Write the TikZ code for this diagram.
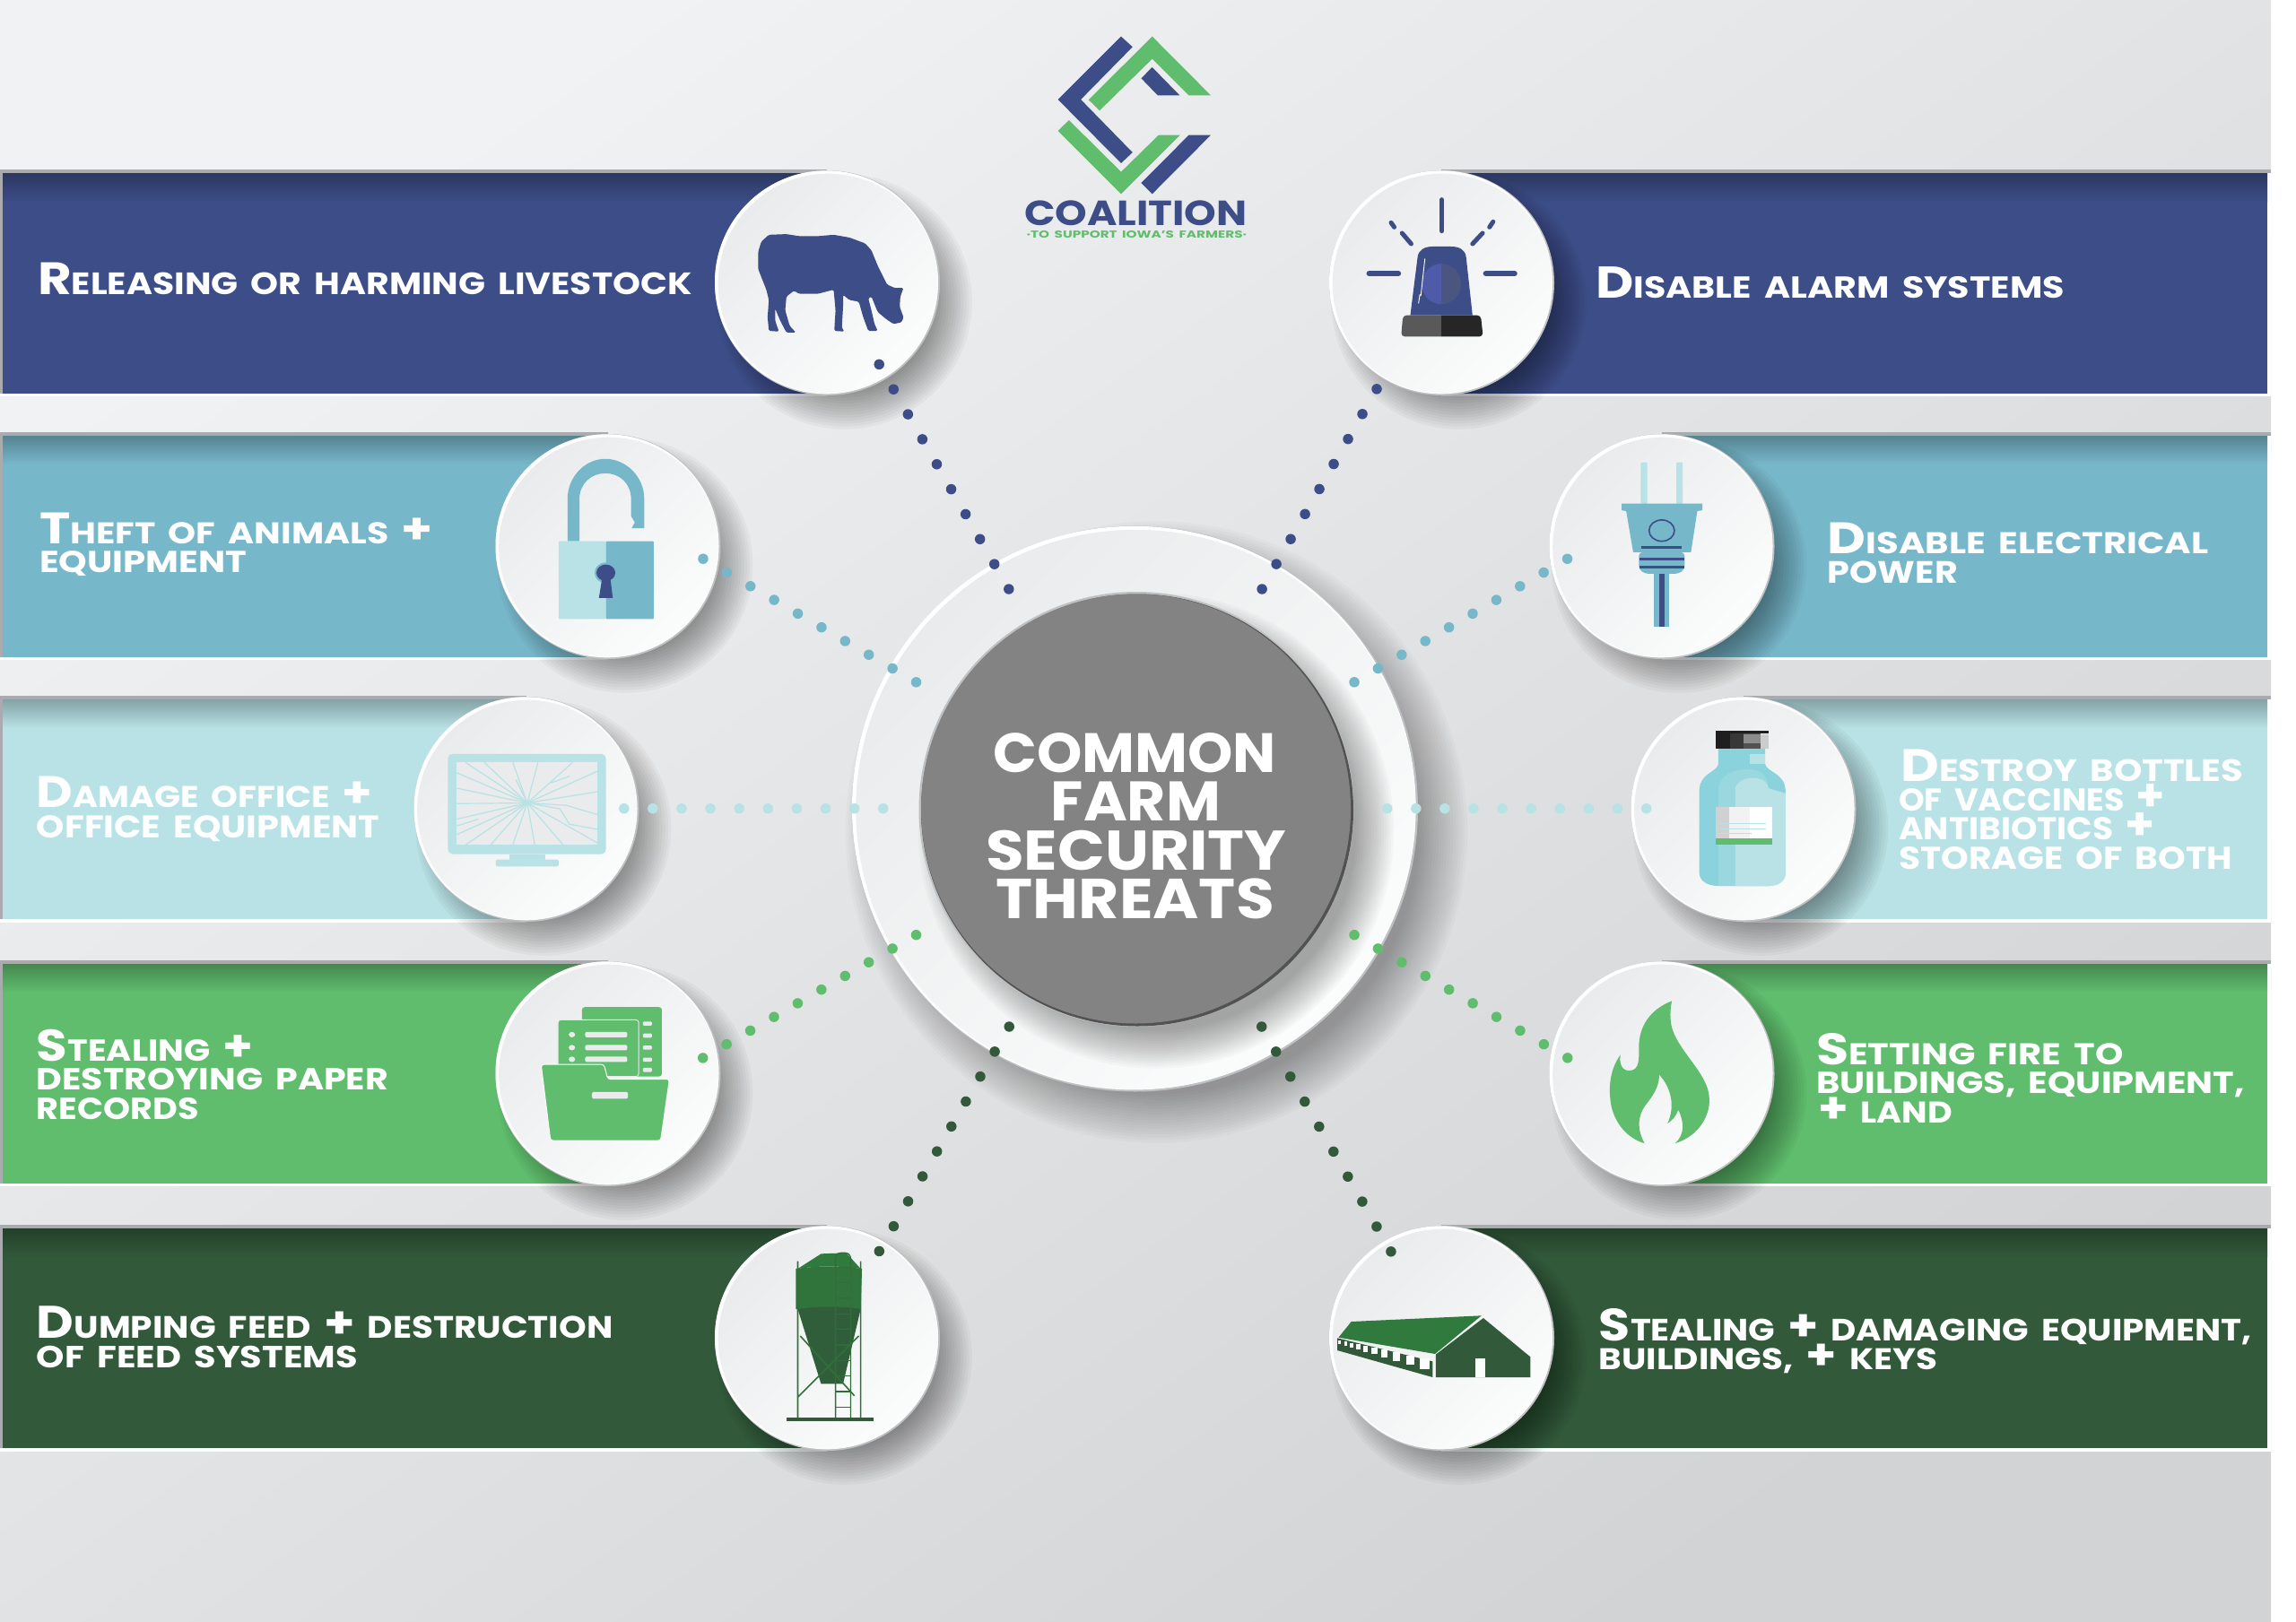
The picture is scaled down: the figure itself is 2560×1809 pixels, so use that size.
\documentclass[tikz,border=0pt]{standalone}
\usepackage{graphicx}
\usepackage{fontspec}
\setmainfont{Poppins}[WordSpace=1.7]
\definecolor{navy}{HTML}{3C4D87}
\definecolor{sky}{HTML}{77B7CA}
\definecolor{pale}{HTML}{B8E2E5}
\definecolor{leaf}{HTML}{60BD6E}
\definecolor{forest}{HTML}{32593A}
\definecolor{barn}{HTML}{2F7A3C}
\definecolor{core}{HTML}{828382}
\definecolor{rim}{HTML}{A9ABAE}
\definecolor{edgeg}{HTML}{BFC0C2}
\definecolor{discA}{HTML}{EAEBEC}
\definecolor{discB}{HTML}{FBFCFC}
\definecolor{bgA}{HTML}{F1F2F3}
\definecolor{bgB}{HTML}{D2D3D5}
\definecolor{vial}{HTML}{8AD3DC}
\definecolor{lampL}{HTML}{4F5AA8}
\definecolor{lampR}{HTML}{4A5580}
\tikzset{
  zA/.style={xshift=1000pt,x=0.5102pt,y=-0.33333pt},
  zB/.style={yshift=-170pt,x=0.7015pt,y=-0.3827pt},
  zC/.style={xshift=1450pt,yshift=-170pt,x=0.70791pt,y=-0.3827pt},
  zD/.style={yshift=-770pt,x=0.7015pt,y=-0.3827pt},
  zE/.style={xshift=1450pt,yshift=-770pt,x=0.70791pt,y=-0.3827pt},
  zF/.style={yshift=-1300pt,x=0.7015pt,y=-0.33333pt},
  zG/.style={xshift=1450pt,yshift=-1300pt,x=0.70791pt,y=-0.33333pt},
  dotline/.style={line width=11.5pt,line cap=round},
  lab/.style={anchor=base west,inner sep=0pt,text=white,font=\bfseries}
}
\newcommand{\bg}[1]{{\fontsize{50}{50}\selectfont #1}}
\newcommand{\sm}[1]{{\fontsize{34}{34}\selectfont #1}}
\newcommand{\pl}{\smash{\fontsize{48}{48}\selectfont +}}
% name, x, baseline, width, height, text
\newcommand{\lineT}[6]{\node[lab] (#1) at (#2,#3) {\resizebox{#4pt}{#5pt}{#6}};}
% xa xb ytop yfill ybot ywhite colour
\newcommand{\bandL}[7]{%
  \fill[rim] (#1,#3) rectangle (#2,#4);
  \fill[rim] (#1,#3) rectangle (#1+3,#6);
  \fill[#7] (#1+3,#4) rectangle (#2,#5);
  \shade[top color=#7!72!black,bottom color=#7] (#1+3,#4) rectangle (#2,#4+32);
  \fill[white] (#1,#5) rectangle (#2,#6);}
\newcommand{\bandR}[7]{%
  \fill[rim] (#1,#3) rectangle (#2,#4);
  \fill[white] (#2-4,#4) rectangle (#2,#6);
  \fill[#7] (#1,#4) rectangle (#2-4,#5);
  \shade[top color=#7!72!black,bottom color=#7] (#1,#4) rectangle (#2-4,#4+32);
  \fill[white] (#1,#5) rectangle (#2,#6);}
% cx cy outer radius count step layer-opacity : soft shadow from stacked discs
\newcommand{\softshadow}[6]{%
  \foreach \k in {1,...,#4} {\fill[black,opacity=#6] (#1,#2) circle[radius=#3-\k*#5];}}
% name cx cy r
\newcommand{\disc}[4]{%
  \softshadow{#2+19}{#3+21}{#4+20}{14}{3.2}{0.031}
  \fill[edgeg] (#2,#3) circle[radius=#4];
  \fill[white] (#2-1,#3-0.7) circle[radius=#4-1];
  \shade[top color=discA,bottom color=discB,shading angle=45] (#2+0.7,#3+0.7) circle[radius=#4-3];
  \node[circle,inner sep=0pt,minimum size=2*#4 pt] (#1) at (#2,#3) {};}
\begin{document}
\begin{tikzpicture}[x=1pt,y=-1pt]
\useasboundingbox (0,0) rectangle (2560,1809);
\fill[white] (0,0) rectangle (2560,1809);
\shade[top color=bgA,bottom color=bgB,shading angle=35] (0,0) rectangle (2532,1809);

% bands
\bandL{0}{922}{189}{193}{439}{442}{navy}
\bandL{0}{678}{482}{486}{733}{736}{sky}
\bandL{0}{587}{776}{780}{1025}{1029}{pale}
\bandL{0}{678}{1071}{1075}{1320}{1323}{leaf}
\bandL{0}{922}{1366}{1370}{1615}{1619}{forest}
\bandR{1607}{2532}{189}{193}{439}{442}{navy}
\bandR{1853}{2532}{482}{486}{733}{736}{sky}
\bandR{1944}{2532}{776}{780}{1025}{1029}{pale}
\bandR{1853}{2532}{1071}{1075}{1320}{1323}{leaf}
\bandR{1607}{2532}{1366}{1370}{1615}{1619}{forest}

% centre ring
\softshadow{1265.5+24}{902+26}{350}{18}{3.2}{0.018}
\fill[edgeg] (1265.5,902) circle[radius=315.5];
\fill[white] (1264.3,901.1) circle[radius=314.3];
\shade[top color=discA,bottom color=discB,shading angle=45] (1266.3,902.8) circle[radius=312];
\softshadow{1267+22}{902.5+24}{268}{16}{2.8}{0.022}
\fill[edgeg] (1267,902.5) circle[radius=242.5];
\fill[black!68] (1268,903.5) circle[radius=241];
\node[circle,fill=core,inner sep=0pt,minimum size=479pt] (hub) at (1266.5,902) {};

% discs
\disc{cowd}{922.5}{315.5}{125.5}
\disc{lockd}{678}{609.5}{125.5}
\disc{mond}{587}{902.5}{125.5}
\disc{fold}{678}{1197.5}{125.5}
\disc{silod}{922.5}{1492.5}{125.5}
\disc{alrd}{1607.5}{315.5}{125.5}
\disc{plgd}{1853}{609.5}{125.5}
\disc{botd}{1944}{902.5}{125.5}
\disc{fird}{1853}{1197.5}{125.5}
\disc{brnd}{1607.5}{1492.5}{125.5}

% logo
\begin{scope}[zA]
\fill[navy] (490,122)--(515,157)--(402,333)--(515,510)--(490,546)--(352,333)--cycle;
\fill[leaf] (558,122)--(686,319)--(638,319)--(558,197)--(443,370)--(419,334)--cycle;
\fill[navy] (558,225)--(618,319)--(570,319)--(534,262)--cycle;
\fill[leaf] (376,402)--(490,575)--(572,452)--(619,452)--(490,649)--(352,438)--cycle;
\fill[navy] (638,452)--(686,452)--(558,649)--(534,612)--cycle;
\end{scope}
\node[lab,text=navy] (logoa) at (1141.8,251.7) {\resizebox{248.5pt}{27.7pt}{COALITION}};
\node[lab,text=leaf] (logob) at (1144.4,265.7) {\resizebox{245.6pt}{8pt}{·TO SUPPORT IOWA'S FARMERS·}};

% cow
\begin{scope}[zB]
\fill[navy,rounded corners=1.5pt] (1210,260)--(1222,240)--(1250,238)--(1270,244)--(1300,244)--(1325,240)--(1350,248)--(1375,265)--(1385,285)--(1395,330)--(1410,385)--(1422,395)--(1436,395)--(1431,420)--(1430,450)--(1436,480)--(1433,495)--(1420,500)--(1408,485)--(1395,465)--(1385,420)--(1380,425)--(1385,460)--(1390,500)--(1395,520)--(1380,520)--(1372,480)--(1365,435)--(1350,430)--(1340,415)--(1340,450)--(1338,510)--(1342,522)--(1326,520)--(1328,460)--(1325,400)--(1300,412)--(1270,412)--(1262,403)--(1250,420)--(1248,460)--(1255,505)--(1265,525)--(1250,525)--(1240,490)--(1232,455)--(1232,490)--(1238,522)--(1222,520)--(1220,480)--(1222,430)--(1218,400)--(1205,340)--(1205,290)--cycle;
% lock
\fill[sky] (902,1133)--(902,1010) .. controls (902,945) and (930,893) .. (962,893) .. controls (995,893) and (1024,945) .. (1024,1010)--(1024,1095)--(1004,1095)--(1009,1078)--(1003,1060)--(1003,1010) .. controls (1003,965) and (985,935) .. (962,935) .. controls (940,935) and (921,965) .. (921,1010)--(921,1133)--cycle;
\fill[pale,rounded corners=1pt] (888,1133) rectangle (963,1360);
\fill[sky,rounded corners=1pt] (963,1133) rectangle (1039,1360);
\fill[sky] (963,1225) ellipse[x radius=18,y radius=30];
\fill[navy] (963,1225) ellipse[x radius=15,y radius=24];
\fill[navy] (957,1240)--(970,1240)--(974,1298)--(952,1298)--cycle;
\end{scope}

% monitor, folder
\begin{scope}[zD]
\fill[pale,rounded corners=5pt] (712,185) rectangle (963,477);
\fill[discA] (726,210) rectangle (950,450);
\foreach \a/\b in {726/240,726/285,726/330,726/375,726/420,740/450,780/450,815/450,850/450,895/450,950/445,950/295,950/235,910/210,855/210,815/210,770/210,740/210}
  \draw[pale,line width=1.2pt] (838,328)--(\a,\b);
\draw[pale,line width=1.2pt] (838,328)--(890,345)--(905,390)--(950,405) (838,328)--(900,335)--(950,362) (875,270)--(905,250) (760,375)--(726,395) (820,260)--(838,328);
\fill[pale] (810,477) rectangle (866,495);
\fill[pale,rounded corners=2pt] (788,493) rectangle (888,513);
\fill[leaf,rounded corners=3pt] (925,923) rectangle (1052,1125);
\foreach \y in {965,1000,1035,1070,1100}
  \fill[discA,rounded corners=1pt] (1022,\y) rectangle (1036,\y+12);
\fill[leaf,draw=discA,line width=1pt,rounded corners=3pt] (887,960) rectangle (1015,1125);
\foreach \y in {1003,1041,1075} {
  \fill[discA] (909,\y) ellipse[x radius=5,y radius=8];
  \fill[discA,rounded corners=2pt] (930,\y-8) rectangle (997,\y+8);}
\fill[leaf,draw=discB,line width=1pt,rounded corners=3pt] (860,1090)--(960,1090)--(966,1133)--(1064,1133)--(1050,1312)--(875,1312)--cycle;
\fill[discA,rounded corners=2pt] (941,1170) rectangle (998,1190);
\end{scope}

% silo
\begin{scope}[zF]
\fill[barn] (1268,345)--(1305,295)--(1345,292)--(1368,345) .. controls (1335,335) and (1300,335) .. (1268,345)--cycle;
\fill[barn!80!forest] (1265,345) .. controls (1300,335) and (1335,335) .. (1370,345)--(1368,480)--(1265,480)--cycle;
\fill[forest!85!barn] (1268,480) .. controls (1300,470) and (1340,470) .. (1368,480)--(1340,730)--(1305,730)--cycle;
\draw[barn!70!forest,line width=1.6pt] (1268,320)--(1268,850) (1368,320)--(1368,850) (1272,570)--(1358,770) (1268,775)--(1365,570);
\draw[barn!60!forest,line width=1.3pt,rounded corners=6pt] (1328,845)--(1328,292)--(1352,292)--(1352,845);
\foreach \y in {340,392,444,496,548,600,652,704,756,808}
  \draw[barn!60!forest,line width=1.3pt] (1328,\y)--(1352,\y);
\draw[forest,line width=4pt] (1250,848)--(1388,848);
\end{scope}

% alarm
\begin{scope}[zA]
\draw[navy,line width=5pt,line cap=round] (1191,668)--(1191,773);
\draw[navy,line width=6pt,line cap=round] (1032,915)--(1096,915) (1287,915)--(1350,915);
\draw[navy,line width=5pt,line cap=round] (1104,780)--(1124,816) (1080,745)--(1087,760) (1258,816)--(1280,780) (1295,760)--(1303,742);
\fill[navy] (1122,1055)--(1138,860) .. controls (1140,835) and (1155,825) .. (1170,825)--(1212,825) .. controls (1228,825) and (1242,835) .. (1244,860)--(1258,1055)--cycle;
\begin{scope}
\clip (1100,870) rectangle (1190,1030);
\fill[lampL] (1190,950) ellipse[x radius=43,y radius=68];
\end{scope}
\begin{scope}
\clip (1190,870) rectangle (1280,1030);
\fill[lampR] (1190,950) ellipse[x radius=43,y radius=68];
\end{scope}
\draw[white,line width=.9pt] (1154,865)--(1145,990) (1143,985)--(1140,1015);
\begin{scope}
\clip (1090,1050) rectangle (1190,1130);
\fill[black!65,rounded corners=4pt] (1102,1126)--(1106,1055)--(1276,1055)--(1281,1126)--cycle;
\end{scope}
\begin{scope}
\clip (1190,1050) rectangle (1290,1130);
\fill[black!85,rounded corners=4pt] (1102,1126)--(1106,1055)--(1276,1055)--(1281,1126)--cycle;
\end{scope}
\end{scope}

% plug
\begin{scope}[zC]
\fill[pale,rounded corners=1pt] (536,903) rectangle (546,1025);
\fill[pale,rounded corners=1pt] (592,903) rectangle (602,1025);
\fill[sky] (506,1023)--(633,1023)--(633,1043)--(625,1045)--(615,1165)--(524,1165)--(513,1045)--(506,1043)--cycle;
\draw[navy,line width=1.6pt] (569,1102) ellipse[x radius=20,y radius=31];
\draw[navy,line width=3pt] (537,1151)--(601,1151);
\fill[sky,rounded corners=4pt] (533,1165)--(605,1165)--(605,1215)--(595,1228)--(543,1228)--(533,1215)--cycle;
\draw[navy,line width=3.5pt] (534,1185)--(604,1185) (534,1208)--(604,1208);
\fill[sky] (557,1228) rectangle (581,1382);
\fill[navy] (565,1228) rectangle (573,1382);
\end{scope}

% bottle, flame
\begin{scope}[zE]
\fill[vial] (658,170)--(732,170)--(732,215) .. controls (735,240) and (764,240) .. (764,295)--(764,530) .. controls (764,560) and (750,570) .. (735,570)--(660,570) .. controls (640,570) and (628,555) .. (628,530)--(628,295) .. controls (628,240) and (655,240) .. (658,215)--cycle;
\fill[vial!65!pale] (658,570)--(658,285) .. controls (662,245) and (680,230) .. (708,230) .. controls (725,230) and (737,250) .. (737,285)--(737,570)--cycle;
\fill[pale] (685,570)--(685,285) .. controls (690,245) and (735,245) .. (737,285)--(764,300)--(764,530) .. controls (764,560) and (750,570) .. (735,570)--cycle;
\fill[pale] (708,185) rectangle (732,215);
\fill[black!88] (654,118) rectangle (677,170);
\fill[black!78] (677,118) rectangle (698,170);
\fill[black!68] (698,118) rectangle (725,170);
\fill[black!45] (698,128) rectangle (725,155);
\fill[black!20] (725,128) rectangle (738,170);
\fill[black!88] (654,118) rectangle (738,125);
\fill[black!18] (654,340) rectangle (675,432);
\fill[black!5] (675,340) rectangle (708,432);
\fill[white] (708,340) rectangle (743,432);
\fill[leaf] (654,432) rectangle (743,450);
\draw[pale,line width=1.2pt] (660,388)--(733,388) (660,403)--(733,403) (660,416)--(710,416);
\fill[leaf] (585,905) .. controls (550,930) and (533,980) .. (533,1040) .. controls (533,1070) and (535,1108) .. (518,1108) .. controls (505,1108) and (502,1085) .. (504,1062) .. controls (485,1110) and (485,1170) .. (490,1215) .. controls (497,1265) and (515,1305) .. (542,1320) .. controls (530,1280) and (530,1240) .. (545,1205) .. controls (558,1175) and (565,1150) .. (565,1120) .. controls (585,1160) and (590,1215) .. (578,1262) .. controls (588,1250) and (593,1235) .. (595,1222) .. controls (605,1260) and (605,1295) .. (590,1320) .. controls (625,1300) and (645,1245) .. (644,1190) .. controls (643,1110) and (585,1040) .. (583,960) .. controls (582,940) and (583,920) .. (585,905) -- cycle;
\end{scope}

% barn
\begin{scope}[zG]
\fill[barn] (80,522)--(285,502)--(212,630)--(60,575)--cycle;
\fill[forest] (288,510)--(362,640)--(362,708)--(213,708)--(213,632)--cycle;
\fill[discB] (276,645) rectangle (291,708);
\fill[forest] (58,577)--(208,655)--(208,708)--(58,618)--cycle;
\foreach \x/\w in {60/4,69/4,78/5,88/6,99/7,112/9,127/10,145/12,166/14,188/15} {
  \pgfmathsetmacro{\yt}{584+(\x-58)*0.47}
  \pgfmathsetmacro{\hh}{11+(\x-58)*0.2}
  \fill[discB] (\x,\yt) rectangle ++(\w,\hh);}
\end{scope}

% dotted links
\coordinate (n1a) at (1124.8,657); \coordinate (n1b) at (980,406);
\coordinate (n2a) at (1407.1,657); \coordinate (n2b) at (1551,406);
\coordinate (s1a) at (1125.2,1145); \coordinate (s1b) at (980,1396);
\coordinate (s2a) at (1406.7,1145); \coordinate (s2b) at (1551,1396);
\coordinate (b1a) at (1021.5,760.8); \coordinate (b1b) at (783.6,623);
\coordinate (b2a) at (1510,760.8); \coordinate (b2b) at (1748,623);
\coordinate (g1a) at (1021.5,1042.7); \coordinate (g1b) at (783.6,1180);
\coordinate (g2a) at (1510,1042.7); \coordinate (g2b) at (1748,1180);
\coordinate (p1a) at (984.7,901.7); \coordinate (p1b) at (695.2,901.7);
\coordinate (p2a) at (1546.7,901.7); \coordinate (p2b) at (1836.5,901.7);
\draw[dotline,navy,dash pattern=on 0pt off 32.15pt] (n1a)--(n1b);
\draw[dotline,navy,dash pattern=on 0pt off 32.15pt] (n2a)--(n2b);
\draw[dotline,forest,dash pattern=on 0pt off 32.15pt] (s1a)--(s1b);
\draw[dotline,forest,dash pattern=on 0pt off 32.15pt] (s2a)--(s2b);
\draw[dotline,sky,dash pattern=on 0pt off 30.5pt] (b1a)--(b1b);
\draw[dotline,sky,dash pattern=on 0pt off 30.5pt] (b2a)--(b2b);
\draw[dotline,leaf,dash pattern=on 0pt off 30.5pt] (g1a)--(g1b);
\draw[dotline,leaf,dash pattern=on 0pt off 30.5pt] (g2a)--(g2b);
\draw[dotline,pale,dash pattern=on 0pt off 32.1pt] (p1a)--(p1b);
\draw[dotline,pale,dash pattern=on 0pt off 32.1pt] (p2a)--(p2b);

% centre title
\node[lab] (ta) at (1107.3,861.5) {\resizebox{315.5pt}{44pt}{COMMON}};
\node[lab] (tb) at (1171.6,915.6) {\resizebox{189.2pt}{43.6pt}{FARM}};
\node[lab] (tc) at (1099,970) {\resizebox{335pt}{44.4pt}{SECURITY}};
\node[lab] (td) at (1110.5,1024.5) {\resizebox{310pt}{44.7pt}{THREATS}};

% band labels, left
\lineT{l1}{42}{328}{729.6}{35.5}{\bg{R}\sm{ELEASING OR HARMING LIVESTOCK}}
\lineT{l2a}{44}{606.3}{438.6}{34.5}{\bg{T}\sm{HEFT OF ANIMALS \pl}}
\lineT{l2b}{44}{638.8}{231}{24}{\sm{EQUIPMENT}}
\lineT{l3a}{40.7}{900.9}{374.3}{34.5}{\bg{D}\sm{AMAGE OFFICE \pl}}
\lineT{l3b}{40.7}{934.6}{382.3}{24.9}{\sm{OFFICE EQUIPMENT}}
\lineT{l4a}{40.7}{1183.3}{241.3}{35.3}{\bg{S}\sm{TEALING \pl}}
\lineT{l4b}{40.7}{1215.8}{392.1}{24.1}{\sm{DESTROYING PAPER}}
\lineT{l4c}{40.7}{1248.4}{181}{24.1}{\sm{RECORDS}}
\lineT{l5a}{40.7}{1492.7}{642.6}{35.7}{\bg{D}\sm{UMPING FEED \pl{} DESTRUCTION}}
\lineT{l5b}{40.7}{1525.3}{357.8}{24.3}{\sm{OF FEED SYSTEMS}}
% band labels, right
\lineT{r1}{1779}{332.3}{522.6}{34.9}{\bg{D}\sm{ISABLE ALARM SYSTEMS}}
\lineT{r2a}{2037.6}{617.8}{424.7}{34.5}{\bg{D}\sm{ISABLE ELECTRICAL}}
\lineT{r2b}{2037.6}{650}{145.1}{24.6}{\sm{POWER}}
\lineT{r3a}{2119}{871.4}{382}{35.6}{\bg{D}\sm{ESTROY BOTTLES}}
\lineT{r3b}{2117}{904}{297}{25}{\sm{OF VACCINES \pl}}
\lineT{r3c}{2117}{936.5}{286}{24.9}{\sm{ANTIBIOTICS \pl}}
\lineT{r3d}{2117}{969}{371.5}{25}{\sm{STORAGE OF BOTH}}
\lineT{r4a}{2025}{1187}{342.5}{35}{\bg{S}\sm{ETTING FIRE TO}}
\lineT{r4b}{2025}{1219.7}{477.7}{24.1}{\sm{BUILDINGS, EQUIPMENT,}}
\lineT{r4c}{2027}{1252}{150}{23.5}{\sm{\pl{} LAND}}
\lineT{r5a}{1782.7}{1495}{727.8}{36}{\bg{S}\sm{TEALING \pl{} DAMAGING EQUIPMENT,}}
\lineT{r5b}{1782.7}{1527.7}{377.3}{23.7}{\sm{BUILDINGS, \pl{} KEYS}}
\end{tikzpicture}
\end{document}
